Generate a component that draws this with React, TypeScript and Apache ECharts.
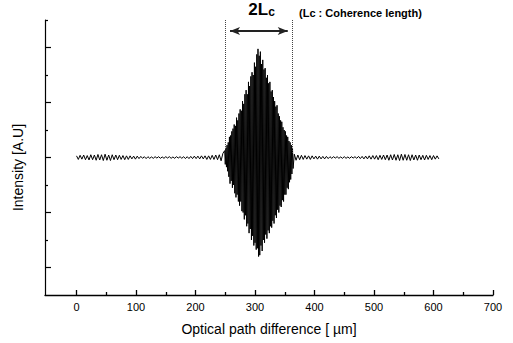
import React, { useEffect, useRef } from "react";
import * as echarts from "echarts";

// Axis ticks / labels
const xLabelValues = [0, 100, 200, 300, 400, 500, 600, 700];
const xMinorTicks = [50, 150, 250, 350, 450, 550, 650];
const yMajorTicks = [-4, -2, 0, 2, 4];
const yMinorTicks = [-3, -1, 1, 3, 5];

// Interferogram: background fringes left of the burst (x = 0, 3, 6, ... µm)
const leftStart = 0;
const noiseStep = 3;
const leftNoise = [
  0.06, -0.07, 0.08, -0.06, 0.09, -0.08, 0.07, -0.09, 0.1, -0.08, 0.09, -0.1,
  0.11, -0.09, 0.1, -0.11, 0.12, -0.1, 0.09, -0.11, 0.1, -0.08, 0.09, -0.08,
  0.08, -0.07, 0.07, -0.08, 0.06, -0.07, 0.06, -0.05, 0.05, -0.06, 0.05, -0.04,
  0.04, -0.03, 0.03, -0.04, 0.03, -0.03, 0.02, -0.03, 0.03, -0.02, 0.03, -0.03,
  0.02, -0.03, 0.03, -0.02, 0.03, -0.03, 0.02, -0.03, 0.03, -0.02, 0.03, -0.03,
  0.03, -0.04, 0.03, -0.04, 0.04, -0.04, 0.05, -0.04, 0.05, -0.05, 0.06, -0.05,
  0.06, -0.07, 0.06, -0.07, 0.08, -0.07, 0.09, -0.08, 0.1, -0.12, 0.15,
];

// Central coherence burst: [peak, trough] per fringe, fringe period 2 µm from 249 µm
const burstStart = 249;
const burstFringes: [number, number][] = [
  [0.25, -0.25], [0.35, -0.35], [0.45, -0.5], [0.55, -0.7], [0.75, -0.95],
  [0.8, -0.85], [0.95, -1.1], [1.05, -1.0], [1.2, -1.3], [1.15, -1.45],
  [1.45, -1.35], [1.35, -1.6], [1.6, -1.75], [1.75, -1.6], [1.7, -1.95],
  [2.05, -2.0], [1.95, -2.25], [2.3, -2.1], [2.45, -2.5], [2.3, -2.4],
  [2.75, -2.75], [2.6, -2.6], [2.95, -3.0], [3.1, -2.85], [3.0, -3.2],
  [3.45, -3.1], [3.3, -3.35], [3.75, -3.3], [3.95, -3.6], [3.7, -3.55],
  [3.85, -3.2], [3.4, -3.4], [3.55, -3.0], [3.2, -3.1], [3.25, -2.8],
  [2.9, -2.95], [3.0, -2.65], [2.7, -2.75], [2.75, -2.5], [2.4, -2.55],
  [2.45, -2.3], [2.2, -2.4], [2.05, -2.1], [1.85, -2.2], [1.9, -1.9],
  [1.6, -2.0], [1.5, -1.75], [1.35, -1.8], [1.3, -1.55], [1.1, -1.6],
  [1.0, -1.35], [0.95, -1.35], [0.8, -1.1], [0.75, -1.15], [0.6, -0.9],
  [0.55, -0.8], [0.45, -0.6], [0.35, -0.4],
];

// Background fringes right of the burst (x = 366, 369, ... µm)
const rightStart = 366;
const rightNoise = [
  0.12, -0.1, 0.09, -0.08, 0.08, -0.07, 0.07, -0.06, 0.06, -0.07, 0.06, -0.05,
  0.05, -0.06, 0.05, -0.05, 0.04, -0.05, 0.04, -0.04,
  0.03, -0.03, 0.03, -0.02, 0.03, -0.03, 0.02, -0.03, 0.03, -0.03, 0.02, -0.03,
  0.03, -0.02, 0.03, -0.03, 0.04, -0.04, 0.04, -0.05, 0.05, -0.05,
  0.06, -0.06, 0.07, -0.06, 0.07, -0.08, 0.08, -0.07, 0.09, -0.08, 0.09, -0.1,
  0.1, -0.09, 0.11, -0.1, 0.1, -0.11, 0.12, -0.1, 0.11, -0.1, 0.1, -0.11,
  0.1, -0.09, 0.09, -0.1, 0.09, -0.08, 0.08, -0.09, 0.08, -0.07, 0.07, -0.08,
  0.07, -0.06, 0.06, -0.05,
];

// Coherence-length markers (µm)
const coherenceEdges = [250, 363];
const arrowSpan = [258, 355];

const FONT = "'Liberation Sans', Arial, Helvetica, sans-serif";

export default function App() {
  const ref = useRef<HTMLDivElement>(null);

  useEffect(() => {
    if (!ref.current) return;
    const chart = echarts.init(ref.current, undefined, { renderer: "svg" });

    const data: [number, number][] = [
      ...leftNoise.map((v, i) => [leftStart + i * noiseStep, v] as [number, number]),
      ...burstFringes.flatMap(([u, d], k) => [
        [burstStart + 2 * k, u] as [number, number],
        [burstStart + 2 * k + 1, d] as [number, number],
      ]),
      ...rightNoise.map((v, i) => [rightStart + i * noiseStep, v] as [number, number]),
    ];

    const axisCommon = {
      type: "value" as const,
      splitLine: { show: false },
    };

    chart.setOption({
      animation: false,
      backgroundColor: "#ffffff",
      grid: { left: 45, right: 20, top: 20, bottom: 48 },
      xAxis: [
        {
          ...axisCommon,
          min: -53,
          max: 700,
          axisLine: { show: true, onZero: false, lineStyle: { color: "#000", width: 1.3 } },
          axisTick: {
            show: true,
            inside: true,
            length: 5,
            customValues: xLabelValues,
            lineStyle: { color: "#000", width: 1.3 },
          },
          axisLabel: {
            customValues: xLabelValues,
            color: "#000",
            fontSize: 11,
            fontFamily: FONT,
            margin: 6,
          },
          name: "Optical path difference [ µm]",
          nameLocation: "middle",
          nameGap: 27,
          nameTextStyle: { color: "#000", fontSize: 14, fontFamily: FONT },
        },
        {
          ...axisCommon,
          min: -53,
          max: 700,
          position: "bottom",
          axisLine: { show: false, onZero: false },
          axisTick: {
            show: true,
            inside: true,
            length: 3,
            customValues: xMinorTicks,
            lineStyle: { color: "#000", width: 1.3 },
          },
          axisLabel: { show: false },
        },
      ],
      yAxis: [
        {
          ...axisCommon,
          min: -5,
          max: 5,
          axisLine: { show: true, onZero: false, lineStyle: { color: "#000", width: 1.2 } },
          axisTick: {
            show: true,
            inside: true,
            length: 6,
            customValues: yMajorTicks,
            lineStyle: { color: "#000", width: 1.2 },
          },
          axisLabel: { show: false },
          name: "Intensity [A.U]",
          nameLocation: "middle",
          nameGap: 20,
          nameTextStyle: {
            color: "#000",
            fontSize: 14,
            fontFamily: FONT,
            padding: [0, 20, 0, 0],
          },
        },
        {
          ...axisCommon,
          min: -5,
          max: 5,
          position: "left",
          axisLine: { show: false, onZero: false },
          axisTick: {
            show: true,
            inside: true,
            length: 3,
            customValues: yMinorTicks,
            lineStyle: { color: "#000", width: 1.2 },
          },
          axisLabel: { show: false },
        },
      ],
      series: [
        {
          type: "line",
          xAxisIndex: 0,
          yAxisIndex: 0,
          data,
          showSymbol: false,
          symbol: "none",
          lineStyle: { color: "#000", width: 1 },
          clip: false,
          markLine: {
            silent: true,
            symbol: "none",
            label: { show: false },
            data: [
              [
                { coord: [coherenceEdges[0], 5.0], lineStyle: { type: "dotted", color: "#444", width: 1 } },
                { coord: [coherenceEdges[0], 0.27] },
              ],
              [
                { coord: [coherenceEdges[1], 5.0], lineStyle: { type: "dotted", color: "#444", width: 1 } },
                { coord: [coherenceEdges[1], 0.16] },
              ],
              [
                {
                  coord: [arrowSpan[0], 4.6],
                  symbol: "arrow",
                  symbolSize: [6, 10],
                  lineStyle: { type: "solid", color: "#222", width: 2 },
                },
                { coord: [arrowSpan[1], 4.6], symbol: "arrow", symbolSize: [6, 10] },
              ],
            ],
          },
        },
      ],
    });

    const p2 = chart.convertToPixel({ gridIndex: 0 }, [311, 5.07]) as number[];
    const p3 = chart.convertToPixel({ gridIndex: 0 }, [374, 5.07]) as number[];

    chart.setOption({
      graphic: [
        {
          type: "text",
          x: p2[0],
          y: p2[1],
          style: {
            text: "{a|2L}{b|c}",
            align: "center",
            verticalAlign: "bottom",
            fill: "#000",
            rich: {
              a: { fontSize: 17, fontWeight: "bold", fontFamily: FONT, fill: "#000", color: "#000" },
              b: { fontSize: 12, fontWeight: "bold", fontFamily: FONT, fill: "#000", color: "#000", verticalAlign: "bottom" },
            },
          },
        },
        {
          type: "text",
          x: p3[0],
          y: p3[1],
          style: {
            text: "(Lc : Coherence length)",
            align: "left",
            verticalAlign: "bottom",
            fill: "#000",
            font: `bold 11px ${FONT}`,
          },
        },
      ],
    });

    return () => chart.dispose();
  }, []);

  return (
    <div
      ref={ref}
      style={{ position: "fixed", left: 0, top: 0, width: 513, height: 343, background: "#fff" }}
    />
  );
}
